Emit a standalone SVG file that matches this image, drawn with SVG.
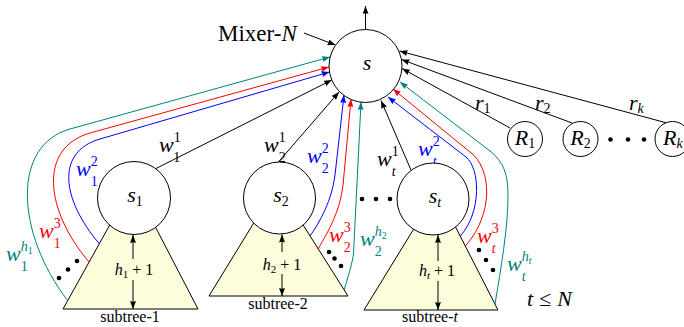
<svg xmlns="http://www.w3.org/2000/svg" width="684" height="327" viewBox="0 0 684 327">
<style>
.t{font-family:"Liberation Serif","DejaVu Serif",serif;fill:#000}
.m{font-family:"Liberation Serif","DejaVu Serif",serif;font-style:italic;font-size:22px}
.n{font-style:normal;font-size:14px}
.i{font-style:italic;font-size:14px}
.x{font-style:italic;font-size:10px}
.xn{font-style:normal;font-size:10px}
.ln{fill:none;stroke-width:1}
.k{stroke:#000}.b{stroke:#0000ff}.r{stroke:#ff0000}.g{stroke:#008080}
.fb{fill:#0000ff}.fr{fill:#ff0000}.fg{fill:#008080}
.nd{fill:#fff;stroke:#000;stroke-width:1}
.tr{fill:#fdfcdb;stroke:#000;stroke-width:1}
.st{font-family:"Liberation Serif","DejaVu Serif",serif;font-size:16px;text-anchor:middle}
.hl{font-family:"Liberation Serif","DejaVu Serif",serif;font-size:16px;text-anchor:middle}
</style>
<defs>
<marker id="ak" viewBox="0 0 8 6" refX="8" refY="3" markerWidth="8" markerHeight="6" markerUnits="userSpaceOnUse" orient="auto"><path d="M0,0 L8,3 L0,6 Q1.5,3 0,0 z" fill="#000"/></marker>
<marker id="ab" viewBox="0 0 8 6" refX="8" refY="3" markerWidth="8" markerHeight="6" markerUnits="userSpaceOnUse" orient="auto"><path d="M0,0 L8,3 L0,6 Q1.5,3 0,0 z" fill="#0000ff"/></marker>
<marker id="ar" viewBox="0 0 8 6" refX="8" refY="3" markerWidth="8" markerHeight="6" markerUnits="userSpaceOnUse" orient="auto"><path d="M0,0 L8,3 L0,6 Q1.5,3 0,0 z" fill="#ff0000"/></marker>
<marker id="ag" viewBox="0 0 8 6" refX="8" refY="3" markerWidth="8" markerHeight="6" markerUnits="userSpaceOnUse" orient="auto"><path d="M0,0 L8,3 L0,6 Q1.5,3 0,0 z" fill="#008080"/></marker>
</defs>

<g id="subtree-1">
<polygon class="tr" points="63,309 198,309 151.8,220 112.5,220"/>
<path class="ln k" d="M133,259 L133,235" marker-end="url(#ak)"/>
<path class="ln k" d="M133,280 L133,309" marker-end="url(#ak)"/>
<text class="hl" x="134" y="275"><tspan font-style="italic">h</tspan><tspan font-size="11" dy="3">1</tspan><tspan dy="-3"> + 1</tspan></text>
<text class="st" x="130" y="322">subtree-1</text>
</g>
<g id="subtree-2">
<polygon class="tr" points="209,296 348,296 296.8,215 258.6,215"/>
<path class="ln k" d="M282,252 L282,234.5" marker-end="url(#ak)"/>
<path class="ln k" d="M282,274 L282,296" marker-end="url(#ak)"/>
<text class="hl" x="282" y="270"><tspan font-style="italic">h</tspan><tspan font-size="11" dy="3">2</tspan><tspan dy="-3"> + 1</tspan></text>
<text class="st" x="278" y="309">subtree-2</text>
</g>
<g id="subtree-t">
<polygon class="tr" points="364,310 498,310 453,222 418,222"/>
<path class="ln k" d="M438,261 L438,235" marker-end="url(#ak)"/>
<path class="ln k" d="M438,281 L438,310" marker-end="url(#ak)"/>
<text class="hl" x="437" y="276"><tspan font-style="italic">h</tspan><tspan font-size="11" font-style="italic" dy="3">t</tspan><tspan dy="-3"> + 1</tspan></text>
<text class="st" x="430" y="322">subtree-<tspan font-style="italic">t</tspan></text>
</g>

<g id="connectors">
<path class="ln k" d="M365.5,29.5 L365.5,6" marker-end="url(#ak)"/>
<path class="ln k" d="M304,33 L335.5,45" marker-end="url(#ak)"/>
<path class="ln k" d="M155,169 L331.8,80" marker-end="url(#ak)"/>
<path class="ln b" d="M99.5,244 C 62,200 55,152 100,139 L 329.5,72" marker-end="url(#ab)"/>
<path class="ln r" d="M89,262 C 45,210 38,148 90,133 L 329,67" marker-end="url(#ar)"/>
<path class="ln g" d="M68,301 C 15,232 12,145 70,129 L 330,57" marker-end="url(#ag)"/>
<path class="ln k" d="M278,162.5 L339,92" marker-end="url(#ak)"/>
<path class="ln b" d="M310,236 C 320,222 332,200 335,175 L 344,95" marker-end="url(#ab)"/>
<path class="ln r" d="M318,249 C 328,232 340,212 343,185 L 351,99" marker-end="url(#ar)"/>
<path class="ln g" d="M344,290 C 349,274 352,264 353.5,254 L 361,102" marker-end="url(#ag)"/>
<path class="ln k" d="M411,170 L381,100.5" marker-end="url(#ak)"/>
<path class="ln b" d="M460.3,236 C 482,212 480,168 466,157 L 388,97" marker-end="url(#ab)"/>
<path class="ln r" d="M465.4,246 C 494,214 492,168 470,152 L 393,89" marker-end="url(#ar)"/>
<path class="ln g" d="M495,304 C 501,268 508,228 508,195 C 508,175 504,162 490,151 L 400,82" marker-end="url(#ag)"/>
<path class="ln k" d="M510,128 L 402,68.5" marker-end="url(#ak)"/>
<path class="ln k" d="M572,123 L 401.5,59.5" marker-end="url(#ak)"/>
<path class="ln k" d="M667,123 L 399.5,51" marker-end="url(#ak)"/>

<text class="m" x="159" y="152">w<tspan class="n" dy="-10">1</tspan><tspan class="n" dx="-7" dy="20">1</tspan></text>
<text class="m" x="264" y="152">w<tspan class="n" dy="-10">1</tspan><tspan class="n" dx="-7" dy="20">2</tspan></text>
<text class="m" x="377" y="166">w<tspan class="n" dy="-10">1</tspan><tspan class="i" dx="-7" dy="20">t</tspan></text>
<text class="m fb" x="76" y="176">w<tspan class="n" dy="-10">2</tspan><tspan class="n" dx="-7" dy="20">1</tspan></text>
<text class="m fr" x="39" y="238">w<tspan class="n" dy="-10">3</tspan><tspan class="n" dx="-7" dy="20">1</tspan></text>
<text class="m fg" x="6" y="261">w<tspan class="i" dy="-10">h</tspan><tspan class="xn" dy="3">1</tspan><tspan class="n" dx="-12" dy="17">1</tspan></text>
<text class="m fb" x="307" y="163">w<tspan class="n" dy="-10">2</tspan><tspan class="n" dx="-7" dy="20">2</tspan></text>
<text class="m fr" x="329" y="242">w<tspan class="n" dy="-10">3</tspan><tspan class="n" dx="-7" dy="20">2</tspan></text>
<text class="m fg" x="360" y="246">w<tspan class="i" dy="-10">h</tspan><tspan class="xn" dy="3">2</tspan><tspan class="n" dx="-12" dy="17">2</tspan></text>
<text class="m fb" x="418" y="156">w<tspan class="n" dy="-10">2</tspan><tspan class="i" dx="-7" dy="20">t</tspan></text>
<text class="m fr" x="477" y="243">w<tspan class="n" dy="-10">3</tspan><tspan class="i" dx="-7" dy="20">t</tspan></text>
<text class="m fg" x="507" y="271">w<tspan class="i" dy="-10">h</tspan><tspan class="x" dy="3">t</tspan><tspan class="i" dx="-9.8" dy="17">t</tspan></text>
<text class="m" x="475" y="110">r<tspan class="n" dy="3">1</tspan></text>
<text class="m" x="535" y="110">r<tspan class="n" dy="3">2</tspan></text>
<text class="m" x="629" y="110">r<tspan class="i" dy="3">k</tspan></text>
</g>

<g id="node-s">
<circle class="nd" cx="365.5" cy="66" r="36.5"/>
<text class="m" x="367" y="70" text-anchor="middle">s</text>
</g>
<g id="mixer-label">
<text class="t" x="218" y="41" font-size="23">Mixer-<tspan font-style="italic">N</tspan></text>
</g>
<g id="node-s1">
<circle class="nd" cx="134" cy="198" r="36.5"/>
<text class="m" x="135" y="202" text-anchor="middle">s<tspan class="n" font-size="15" dy="4">1</tspan></text>
</g>
<g id="node-s2">
<circle class="nd" cx="279.5" cy="198" r="36"/>
<text class="m" x="281" y="202" text-anchor="middle">s<tspan class="n" font-size="15" dy="4">2</tspan></text>
</g>
<g id="node-st">
<circle class="nd" cx="433" cy="199" r="36"/>
<text class="m" x="435" y="203" text-anchor="middle">s<tspan class="i" font-size="15" dy="4">t</tspan></text>
</g>
<g id="node-R1">
<circle class="nd" cx="525" cy="139" r="17.5"/>
<text class="m" x="525" y="145" font-size="17" text-anchor="middle">R<tspan class="n" font-size="12" dy="3">1</tspan></text>
</g>
<g id="node-R2">
<circle class="nd" cx="580.5" cy="139" r="17.5"/>
<text class="m" x="580.5" y="145" font-size="17" text-anchor="middle">R<tspan class="n" font-size="12" dy="3">2</tspan></text>
</g>
<g id="node-Rk">
<circle class="nd" cx="672.5" cy="139" r="17.5"/>
<text class="m" x="663" y="145" font-size="17">R<tspan class="i" font-size="12" dy="3">k</tspan></text>
</g>

<g id="dots" fill="#000">
<circle cx="59" cy="278" r="2.3"/><circle cx="68" cy="269.5" r="2.3"/><circle cx="77" cy="261" r="2.3"/>
<circle cx="329" cy="252" r="2.3"/><circle cx="334.5" cy="258.5" r="2.3"/><circle cx="341" cy="266" r="2.3"/>
<circle cx="362" cy="199" r="2.3"/><circle cx="376" cy="199" r="2.3"/><circle cx="390" cy="199" r="2.3"/>
<circle cx="479" cy="250" r="2.3"/><circle cx="486" cy="260" r="2.3"/><circle cx="493" cy="270" r="2.3"/>
<circle cx="610.5" cy="139.5" r="2.3"/><circle cx="628" cy="139.5" r="2.3"/><circle cx="644" cy="139.5" r="2.3"/>
</g>
<text class="m" x="527" y="306">t<tspan font-style="normal" dx="6">≤</tspan><tspan dx="6">N</tspan></text>
</svg>
